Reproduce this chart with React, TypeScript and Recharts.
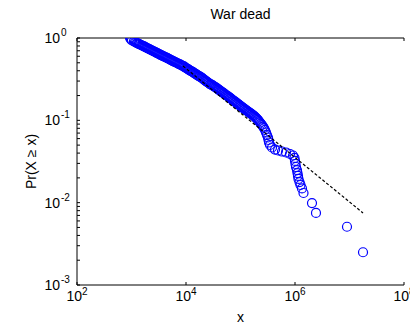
import { Label, Scatter, ScatterChart, XAxis, YAxis } from "recharts";

// war sizes (battle deaths) and their empirical Pr(X >= x)
const WAR_X = [
  940, 980, 1020, 1110, 1160, 1210, 1262, 1320, 1372, 1430,
  1494, 1560, 1625, 1700, 1769, 1850, 1925, 2010, 2095, 2190,
  2280, 2380, 2481, 2590, 2700, 2820, 2937, 3060, 3196, 3330,
  3477, 3630, 3784, 3950, 4118, 4300, 4481, 4670, 4876, 5090,
  5306, 5540, 5774, 6020, 6283, 6550, 6837, 7130, 7440, 7760,
  8096, 8450, 8810, 9190, 9587, 10000, 10430, 10880, 11350, 11840,
  12350, 12890, 13440, 14020, 14630, 15260, 15920, 16610, 17320, 18070,
  18850, 19660, 20510, 21400, 22320, 23290, 24290, 25340, 26430, 27580,
  28770, 30010, 31300, 32650, 34060, 35530, 37060, 38670, 40340, 42080,
  43900, 45790, 47770, 49830, 51980, 54220, 56560, 59000, 61550, 64210,
  66980, 69870, 72880, 76030, 79310, 82740, 86310, 90040, 93930, 97980,
  102200, 106600, 111200, 116000, 121000, 126200, 131700, 137400, 143300, 149500,
  156000, 162700, 169700, 177000, 184600, 192600, 200900, 209600, 218600, 228100,
  237900, 248200, 258900, 270100, 281800, 293900, 306600, 319900, 326700, 333700,
  348200, 378800, 429800, 487700, 577100, 683200, 809000, 918700, 979000, 1000000,
  1021000, 1043000, 1088000, 1111000, 1135000, 1159000, 1210000, 1262000, 1343000, 1432000,
  2050000, 2427000, 8995000, 17700000,
];
const WAR_P = [
  1.0, 0.959, 0.932, 0.907, 0.894, 0.882, 0.869, 0.857, 0.845, 0.834,
  0.822, 0.811, 0.8, 0.789, 0.778, 0.767, 0.756, 0.746, 0.735, 0.725,
  0.715, 0.705, 0.695, 0.686, 0.676, 0.667, 0.657, 0.648, 0.639, 0.63,
  0.621, 0.613, 0.604, 0.596, 0.588, 0.58, 0.572, 0.564, 0.556, 0.548,
  0.54, 0.533, 0.525, 0.518, 0.511, 0.504, 0.497, 0.49, 0.483, 0.477,
  0.47, 0.463, 0.457, 0.451, 0.441, 0.432, 0.426, 0.42, 0.411, 0.403,
  0.397, 0.392, 0.384, 0.376, 0.37, 0.365, 0.357, 0.35, 0.345, 0.34,
  0.333, 0.327, 0.32, 0.313, 0.306, 0.3, 0.294, 0.288, 0.282, 0.276,
  0.272, 0.269, 0.263, 0.258, 0.254, 0.25, 0.245, 0.24, 0.235, 0.23,
  0.225, 0.221, 0.216, 0.212, 0.207, 0.203, 0.199, 0.195, 0.191, 0.187,
  0.183, 0.179, 0.175, 0.172, 0.168, 0.165, 0.161, 0.158, 0.154, 0.151,
  0.148, 0.145, 0.142, 0.139, 0.136, 0.133, 0.13, 0.128, 0.125, 0.123,
  0.12, 0.118, 0.115, 0.113, 0.11, 0.107, 0.104, 0.101, 0.0975, 0.0941,
  0.0909, 0.0878, 0.0841, 0.0807, 0.0763, 0.0712, 0.0663, 0.0619, 0.0577, 0.0538,
  0.0502, 0.0468, 0.0442, 0.043, 0.0418, 0.0407, 0.039, 0.0374, 0.0349, 0.0321,
  0.0295, 0.0271, 0.0249, 0.0229, 0.0211, 0.0194, 0.0178, 0.0164, 0.0149, 0.0131,
  0.0099, 0.0075, 0.0051, 0.0025,
];

// power-law fit, drawn from xmin to the largest war
const FIT_X = [8810, 17700000];
const FIT_P = [0.457, 0.0075];

const X_TICKS = [1e2, 1e4, 1e6, 1e8];
const Y_DECADES = [1e-3, 1e-2, 1e-1, 1];
const Y_MINOR = [2, 3, 4, 5, 6, 7, 8, 9];

const yTicks = Y_DECADES.flatMap((d) =>
  d < 1 ? [d, ...Y_MINOR.map((m) => d * m)] : [d]
);

const warData = WAR_X.map((x, i) => ({ x, p: WAR_P[i] }));
const fitData = FIT_X.map((x, i) => ({ x, p: FIT_P[i] }));

const FONT = "'Liberation Sans', Arial, Helvetica, sans-serif";
const TICK_LEN = 3;

function exponent(v: number) {
  return Math.round(Math.log10(v));
}

function isDecade(v: number) {
  return Math.abs(Math.log10(v) - exponent(v)) < 1e-6;
}

function BottomTick(props: any) {
  const { x, y, payload } = props;
  return (
    <g>
      <line x1={x} x2={x} y1={y} y2={y - TICK_LEN} stroke="#000" />
      <text x={x} y={y + 16} textAnchor="middle" fontFamily={FONT} fontSize={14} fill="#000">
        10
        <tspan dy={-6} fontSize={10}>
          {exponent(payload.value)}
        </tspan>
      </text>
    </g>
  );
}

function TopTick(props: any) {
  const { x, y } = props;
  return <line x1={x} x2={x} y1={y} y2={y + TICK_LEN} stroke="#000" />;
}

function LeftTick(props: any) {
  const { x, y, payload } = props;
  const major = isDecade(payload.value);
  return (
    <g>
      <line x1={x} x2={x + TICK_LEN} y1={y} y2={y} stroke="#000" />
      {major && (
        <>
          <text x={x - 17} y={y + 5} textAnchor="end" fontFamily={FONT} fontSize={14} fill="#000">
            10
          </text>
          <text x={x - 16} y={y - 2} textAnchor="start" fontFamily={FONT} fontSize={10} fill="#000">
            {exponent(payload.value)}
          </text>
        </>
      )}
    </g>
  );
}

function RightTick(props: any) {
  const { x, y } = props;
  return <line x1={x} x2={x - TICK_LEN} y1={y} y2={y} stroke="#000" />;
}

function Ring(props: any) {
  const { cx, cy } = props;
  return <circle cx={cx} cy={cy} r={4.5} fill="none" stroke="#0000ff" strokeWidth={1.2} />;
}

function TitleText(props: any) {
  const { viewBox } = props;
  return (
    <text x={viewBox.x + viewBox.width / 2} y={19} textAnchor="middle" fontFamily={FONT} fontSize={14} fill="#000">
      War dead
    </text>
  );
}

function XLabelText(props: any) {
  const { viewBox } = props;
  return (
    <text x={viewBox.x + viewBox.width / 2} y={viewBox.y + viewBox.height - 4} textAnchor="middle" fontFamily={FONT} fontSize={14} fill="#000">
      x
    </text>
  );
}

function YLabelText(props: any) {
  const { viewBox } = props;
  const cy = viewBox.y + viewBox.height / 2;
  return (
    <text
      transform={`translate(36, ${cy}) rotate(-90)`}
      textAnchor="middle"
      fontFamily={FONT}
      fontSize={14}
      fill="#000"
    >
      Pr(X ≥ x)
    </text>
  );
}

const axisLine = { stroke: "#000", strokeWidth: 1 };

export default function App() {
  return (
    <div style={{ position: "absolute", left: 0, top: 0, background: "#fff" }}>
      <ScatterChart width={410} height={326} margin={{ top: 0, right: 6, bottom: 0, left: 0 }}>
        <XAxis
          xAxisId="bottom"
          dataKey="x"
          type="number"
          scale="log"
          domain={[1e2, 1e8]}
          allowDataOverflow
          ticks={X_TICKS}
          interval={0}
          height={41}
          tickSize={0}
          tickMargin={0}
          tickLine={false}
          axisLine={axisLine}
          tick={<BottomTick />}
        >
          <Label content={<XLabelText />} />
        </XAxis>
        <XAxis
          xAxisId="top"
          orientation="top"
          dataKey="x"
          type="number"
          scale="log"
          domain={[1e2, 1e8]}
          allowDataOverflow
          ticks={X_TICKS}
          interval={0}
          height={38}
          tickSize={0}
          tickMargin={0}
          tickLine={false}
          axisLine={axisLine}
          tick={<TopTick />}
        >
          <Label content={<TitleText />} />
        </XAxis>
        <YAxis
          yAxisId="left"
          dataKey="p"
          type="number"
          scale="log"
          domain={[1e-3, 1]}
          allowDataOverflow
          ticks={yTicks}
          interval={0}
          width={77}
          tickSize={0}
          tickMargin={0}
          tickLine={false}
          axisLine={axisLine}
          tick={<LeftTick />}
        >
          <Label content={<YLabelText />} />
        </YAxis>
        <YAxis
          yAxisId="right"
          orientation="right"
          dataKey="p"
          type="number"
          scale="log"
          domain={[1e-3, 1]}
          allowDataOverflow
          ticks={yTicks}
          interval={0}
          width={0}
          tickSize={0}
          tickMargin={0}
          tickLine={false}
          axisLine={axisLine}
          tick={<RightTick />}
        />
        <Scatter
          xAxisId="bottom"
          yAxisId="left"
          data={warData}
          shape={<Ring />}
          isAnimationActive={false}
        />
        <Scatter
          xAxisId="bottom"
          yAxisId="left"
          data={fitData}
          shape={() => <g />}
          line={{ stroke: "#000", strokeWidth: 1.2, strokeDasharray: "3 2" }}
          isAnimationActive={false}
        />
      </ScatterChart>
    </div>
  );
}
